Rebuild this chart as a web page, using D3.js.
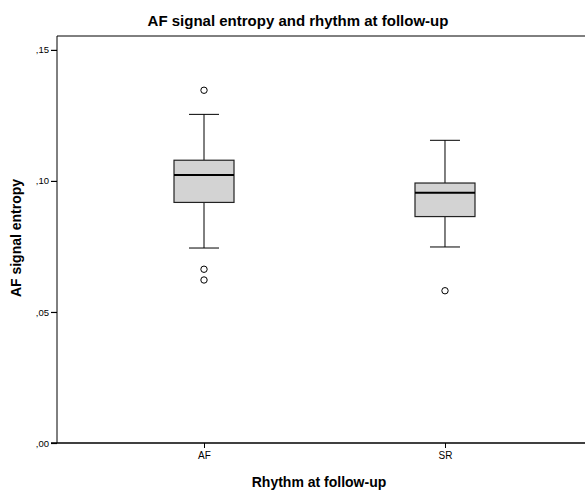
<!DOCTYPE html>
<html>
<head>
<meta charset="utf-8">
<script src="https://cdn.jsdelivr.net/npm/d3@7"></script>
<style>
  html, body { margin: 0; padding: 0; background: #fff; }
  svg { display: block; font-family: "Liberation Sans", Arial, Helvetica, sans-serif; }
</style>
</head>
<body>
<svg id="chart" width="585" height="490"></svg>
<script>
// Rhythm groups at follow-up
const categories = ["AF", "SR"];
// Five-number summaries of AF signal entropy per group
const lowerWhisker = [0.0744, 0.0748];
const q1           = [0.0918, 0.0864];
const median       = [0.1023, 0.0955];
const q3           = [0.1079, 0.0992];
const upperWhisker = [0.1254, 0.1155];
// Outlying observations per group
const outliers = [[0.1346, 0.0663, 0.0622], [0.0581]];
// Y-axis ticks and their labels (comma decimal)
const yTicks = [0.00, 0.05, 0.10, 0.15];
const yTickLabels = [",00", ",05", ",10", ",15"];

const svg = d3.select("#chart");
const plotLeft = 57, plotRight = 592, plotTop = 36, plotBottom = 443;

const x = d3.scalePoint().domain(categories).range([plotLeft, plotRight]).padding(0.61);
const y = d3.scaleLinear().domain([0, 0.1553]).range([plotBottom, plotTop]);

// Title
svg.append("text")
  .attr("x", 298).attr("y", 26)
  .attr("text-anchor", "middle")
  .attr("font-size", 15).attr("font-weight", "bold")
  .text("AF signal entropy and rhythm at follow-up");

// Plot frame (top edge)
svg.append("line").attr("x1", plotLeft).attr("x2", 585).attr("y1", plotTop).attr("y2", plotTop)
  .attr("stroke", "#000").attr("stroke-width", 1);

// Y axis
const yAxis = d3.axisLeft(y).tickValues(yTicks)
  .tickFormat((d, i) => yTickLabels[i]).tickSize(6).tickPadding(2);
const gy = svg.append("g").attr("transform", `translate(${plotLeft},0)`).call(yAxis);
gy.select(".domain").attr("d", `M0,${plotTop}V${plotBottom}`).attr("stroke-width", 1);
gy.selectAll(".tick line").attr("stroke-width", 1.2);
gy.selectAll("text").attr("font-size", 9.5).attr("font-family", "inherit").attr("fill", "#000");

// X axis
const xAxis = d3.axisBottom(x).tickSize(5).tickPadding(4);
const gx = svg.append("g").attr("transform", `translate(0,${plotBottom})`).call(xAxis);
gx.select(".domain").attr("d", `M51,0H585`).attr("stroke-width", 1.3);
gx.selectAll("text").attr("font-size", 10).attr("font-family", "inherit").attr("fill", "#000");

// Axis titles
svg.append("text")
  .attr("x", 319).attr("y", 487)
  .attr("text-anchor", "middle")
  .attr("font-size", 14).attr("font-weight", "bold")
  .text("Rhythm at follow-up");
svg.append("text")
  .attr("transform", "translate(21,238) rotate(-90)")
  .attr("text-anchor", "middle")
  .attr("font-size", 14).attr("font-weight", "bold")
  .text("AF signal entropy");

// Boxes
const boxW = 60, capW = 30;
const g = svg.append("g");
categories.forEach((c, i) => {
  const cx = x(c);
  // whiskers
  g.append("line").attr("x1", cx).attr("x2", cx)
    .attr("y1", y(upperWhisker[i])).attr("y2", y(q3[i]))
    .attr("stroke", "#000").attr("stroke-width", 1);
  g.append("line").attr("x1", cx).attr("x2", cx)
    .attr("y1", y(q1[i])).attr("y2", y(lowerWhisker[i]))
    .attr("stroke", "#000").attr("stroke-width", 1);
  [upperWhisker[i], lowerWhisker[i]].forEach(v => {
    g.append("line").attr("x1", cx - capW / 2).attr("x2", cx + capW / 2)
      .attr("y1", y(v)).attr("y2", y(v))
      .attr("stroke", "#000").attr("stroke-width", 1);
  });
  // box
  g.append("rect")
    .attr("x", cx - boxW / 2).attr("width", boxW)
    .attr("y", y(q3[i])).attr("height", y(q1[i]) - y(q3[i]))
    .attr("fill", "#d3d3d3").attr("stroke", "#222").attr("stroke-width", 1.2);
  // median
  g.append("line").attr("x1", cx - boxW / 2).attr("x2", cx + boxW / 2)
    .attr("y1", y(median[i])).attr("y2", y(median[i]))
    .attr("stroke", "#000").attr("stroke-width", 2);
  // outliers
  outliers[i].forEach(v => {
    g.append("circle").attr("cx", cx).attr("cy", y(v)).attr("r", 3.2)
      .attr("fill", "#fff").attr("stroke", "#000").attr("stroke-width", 1);
  });
});
</script>
</body>
</html>
